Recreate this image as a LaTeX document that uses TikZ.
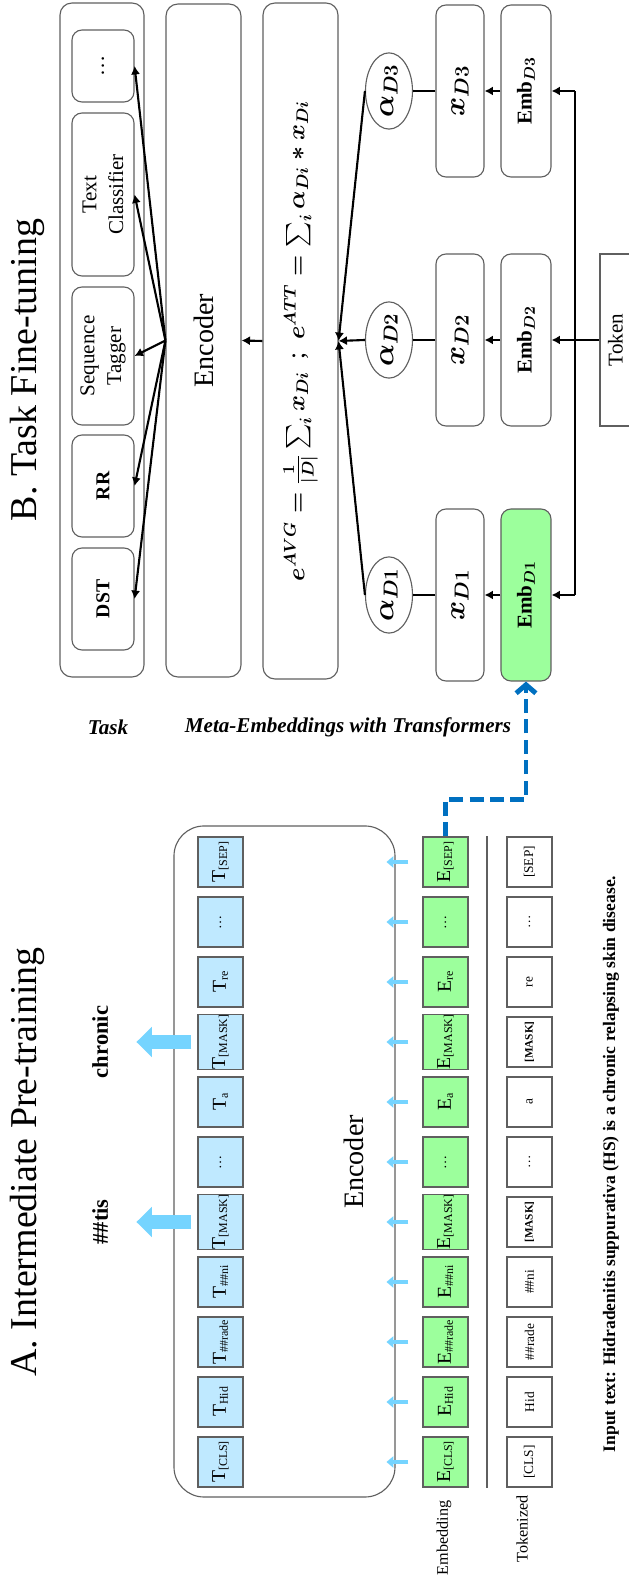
\documentclass[tikz,border=0pt]{standalone}
\usepackage{amsmath}
\usepackage{fontspec}
\setmainfont{Liberation Serif}
\usetikzlibrary{arrows.meta,shapes.geometric}

\definecolor{tokblue}{RGB}{191,233,255}
\definecolor{embgreen}{RGB}{156,255,156}
\definecolor{arrblue}{RGB}{117,212,255}
\definecolor{linkblue}{RGB}{0,112,192}
\definecolor{edge}{RGB}{95,95,95}

\newcommand{\fsz}[1]{\fontsize{#1}{#1}\selectfont}
\newcommand{\tsub}[2]{#1{\fsz{8.5}\raisebox{-0.4ex}{#2}}}

\tikzset{
  cell/.style={draw=edge, line width=0.8pt, minimum width=12.5mm, minimum height=11.25mm, inner sep=0pt, font=\fsz{14}},
  tcell/.style={cell, fill=tokblue},
  ecell/.style={cell, fill=embgreen},
  kcell/.style={cell, font=\fsz{9.5}},
  rbox/.style={draw=edge, line width=0.8pt, rounded corners=2.5mm, inner sep=0pt},
  taskbox/.style={rbox, minimum height=15.5mm, align=center, font=\fontsize{15}{19}\selectfont},
  arr/.style={line width=1.5pt, -{Latex[length=6pt,width=6.5pt]}},
  feed/.style={line width=3pt, arrblue, -{Triangle[length=5pt,width=8pt]}},
  pred/.style={line width=10.5pt, arrblue, -{Triangle[length=11pt,width=21pt]}},
}

\begin{document}
\begin{tikzpicture}[x=0.25mm, y=0.25mm, rotate=90, transform shape]
\useasboundingbox (0,0) rectangle (1584,629);

% pre-training
\node[font=\fsz{27}, anchor=base] (titleA) at (422,592) {A. Intermediate Pre-training};
\node[rbox, rounded corners=7.5mm, minimum width=167.75mm, minimum height=55.25mm] (encA) at (422.5,344.5) {};
\node[font=\fsz{20}] (encAlab) at (422,275) {Encoder};

\foreach \tl/\el/\kl [count=\i from 0] in {
  {\tsub{T}{[CLS]}}/{\tsub{E}{[CLS]}}/{[CLS]},
  {\tsub{T}{Hid}}/{\tsub{E}{Hid}}/{Hid},
  {\tsub{T}{\#\#rade}}/{\tsub{E}{\#\#rade}}/{\#\#rade},
  {\tsub{T}{\#\#ni}}/{\tsub{E}{\#\#ni}}/{\#\#ni},
  {\tsub{T}{[MASK]}}/{\tsub{E}{[MASK]}}/{\fsz{8}\bfseries[MASK]},
  {\fsz{10}\ldots}/{\fsz{10}\ldots}/{\ldots},
  {\tsub{T}{a}}/{\tsub{E}{a}}/{a},
  {\tsub{T}{[MASK]}}/{\tsub{E}{[MASK]}}/{\fsz{8}\bfseries[MASK]},
  {\tsub{T}{re}}/{\tsub{E}{re}}/{re},
  {\fsz{10}\ldots}/{\fsz{10}\ldots}/{\ldots},
  {\tsub{T}{[SEP]}}/{\tsub{E}{[SEP]}}/{[SEP]}}
{
  \node[tcell] (t\i) at ({122+60*\i},408.5) {\tl};
  \node[ecell] (e\i) at ({122+60*\i},183.5) {\el};
  \node[kcell] (k\i) at ({122+60*\i},99.5) {\kl};
  \draw[feed] (e\i.north) ++(0,14) -- ++(0,22);
}
\draw[pred] (t4.north) ++(0,6) -- ++(0,55);
\draw[pred] (t7.north) ++(0,6) -- ++(0,55);
\node[font=\bfseries\fsz{16}, anchor=base] (tis) at (362,521) {\#\#tis};
\node[font=\bfseries\fsz{16}, anchor=base] (chronic) at (542,521) {chronic};

\draw[edge, line width=0.8pt] (96,142) -- (748,142);
\node[font=\fsz{11.5}] (emblab) at (46,185) {Embedding};
\node[font=\fsz{11.5}] (toklab) at (55,107) {Tokenized};
\node[font=\bfseries\fsz{12.5}] (input) at (420,18) {Input text: Hidradenitis suppurativa (HS) is a chronic relapsing skin disease.};

% fine-tuning
\node[font=\fsz{27}, anchor=base] (titleB) at (1214,592) {B. Task Fine-tuning};
\node[rbox, rounded corners=3mm, minimum width=168.5mm, minimum height=21mm] (tasks) at (1244,527) {};
\node[taskbox, minimum width=25.5mm, font=\bfseries\fsz{14}] (dst) at (985,526) {DST};
\node[taskbox, minimum width=25.5mm, font=\bfseries\fsz{14}] (rr) at (1098,526) {RR};
\node[taskbox, minimum width=34.5mm] (seq) at (1228,526) {Sequence\\Tagger};
\node[taskbox, minimum width=40.75mm] (cls) at (1389.5,526) {Text\\Classifier};
\node[taskbox, minimum width=18mm] (more) at (1518,526) {\ldots};

\node[rbox, rounded corners=3mm, minimum width=168.25mm, minimum height=18.75mm, font=\fsz{20}] (encB) at (1243.5,425.5) {Encoder};
\node[rbox, rounded corners=3mm, minimum width=169mm, minimum height=18.75mm, font=\boldmath\fsz{18}] (form) at (1243,328.5)
  {$\textstyle e^{AVG}=\frac{1}{|D|}\sum_i x_{Di}$\ \ ;\ \ $\textstyle e^{ATT}=\sum_i \alpha_{Di} * x_{Di}$};

\foreach \n in {dst,rr,seq,cls,more}
  \draw[arr] (encB.north) -- (\n.south);
\draw[arr] (form.north) -- (encB.south);

\node[draw=edge, line width=0.8pt, minimum width=43mm, minimum height=7.75mm, inner sep=0pt, font=\fsz{15}] (tok) at (1244,13.5) {Token};
\foreach \d/\X/\col in {1/989/embgreen, 2/1244/white, 3/1493/white} {
  \node[ellipse, draw=edge, line width=0.8pt, minimum width=18mm, minimum height=11.75mm, inner sep=0pt, font=\boldmath\fsz{20}] (al\d) at (\X,240) {$\alpha_{D\d}$};
  \node[rbox, minimum width=43mm, minimum height=12mm, font=\boldmath\fsz{20}] (x\d) at (\X,169) {$x_{D\d}$};
  \node[rbox, fill=\col, minimum width=43mm, minimum height=12.5mm, font=\boldmath\fsz{15}] (emb\d) at (\X,103) {\textbf{Emb}$_{D\d}$};
  \coordinate (b\d) at (\X,54);
  \draw[arr] (b\d) -- (emb\d);
  \draw[arr] (emb\d) -- (x\d);
  \draw[line width=1.5pt] (x\d) -- (al\d);
  \draw[arr] (al\d.north) -- (form.south);
}
\draw[line width=1.5pt] (b1) -- (b3);
\draw[line width=1.5pt] (tok.north) -- (b2);

\node[rotate=-90, font=\bfseries\itshape\fsz{15}] (tasklab) at (857,521) {Task};
\node[rotate=-90, font=\bfseries\itshape\fsz{15}] (metalab) at (857,281) {Meta-Embeddings with Transformers};

\draw[linkblue, line width=3.5pt, dash pattern=on 10pt off 4.5pt, -{Straight Barb[length=6pt,width=14pt]}]
  (e10.east) -- ++(37,0) -- ++(0,-80.5) -- (emb1.west);
\end{tikzpicture}
\end{document}
